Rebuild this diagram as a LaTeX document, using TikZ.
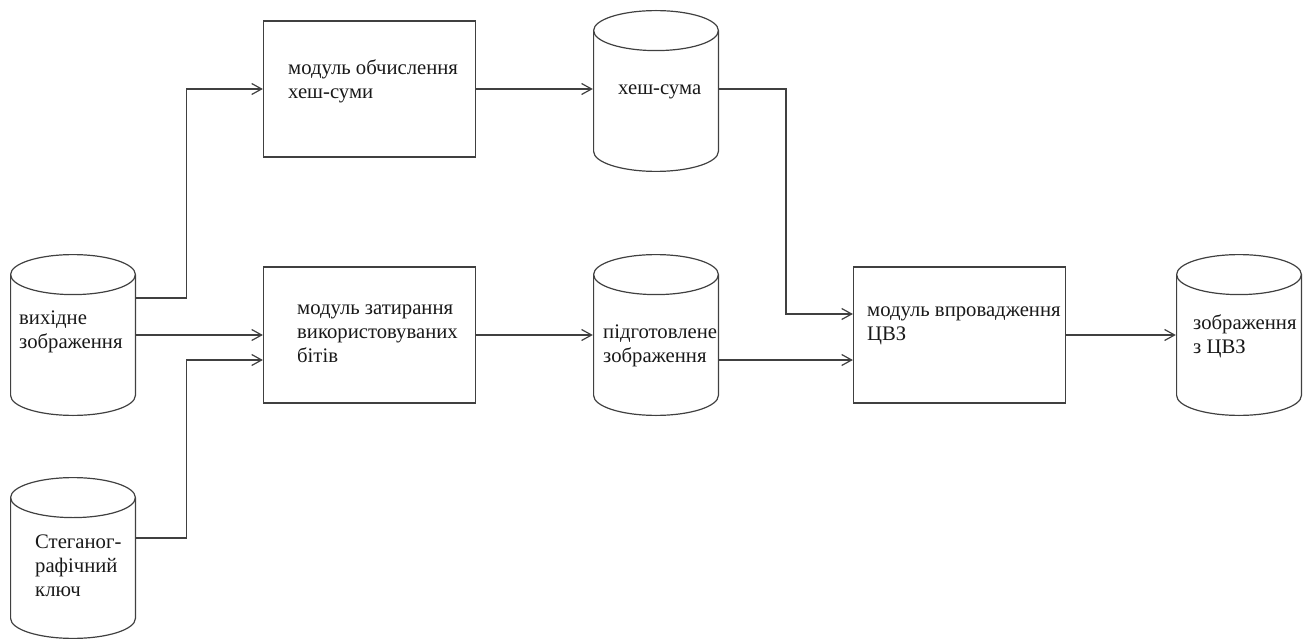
\documentclass[tikz,border=0pt]{standalone}
\usepackage{fontspec}
\setmainfont{Liberation Serif}
\usetikzlibrary{arrows.meta}

\tikzset{
  ln/.style={line width=1.2pt, draw=black!75},
  % process block
  block/.style={ln, draw, rectangle, inner sep=0pt, minimum width=212pt, minimum height=136pt},
  % data store drawn as a cylinder inside an invisible frame
  store/.style={rectangle, inner sep=0pt, minimum width=126pt, minimum height=162pt,
    path picture={
      \draw[ln] ([yshift=-20.6pt]path picture bounding box.north) ellipse [x radius=62.4pt, y radius=20pt];
      \draw[ln] ([shift={(0.6pt,-20.6pt)}]path picture bounding box.north west)
        -- ([shift={(0.6pt,20.6pt)}]path picture bounding box.south west)
        arc [start angle=180, end angle=360, x radius=62.4pt, y radius=20pt]
        -- ([shift={(-0.6pt,-20.6pt)}]path picture bounding box.north east);
    }},
  txt/.style={anchor=west, align=left, inner sep=0pt, text=black!90,
    font=\fontsize{20.7}{24}\selectfont},
  flow/.style={ln, -{Straight Barb[length=10pt, width=11pt, line width=1.2pt]}},
}

\begin{document}
\begin{tikzpicture}[x=1pt, y=-1pt]
  \useasboundingbox (0,0) rectangle (1311,639);

  % data stores
  \node[store] (src)  at (73,335)   {};
  \node[store] (key)  at (73,558)   {};
  \node[store] (hash) at (656,91)   {};
  \node[store] (prep) at (656,335)  {};
  \node[store] (out)  at (1239,335) {};

  % processing modules
  \node[block] (hashmod)  at (369.5,89)  {};
  \node[block] (erasemod) at (369.5,335) {};
  \node[block] (embedmod) at (959.5,335) {};

  % captions
  \node[txt] (srct)  at (19,332)   {вихідне\\зображення};
  \node[txt] (keyt)  at (35,566)   {Стеганог-\\рафічний\\ключ};
  \node[txt] (hasht) at (618,92)   {хеш-сума};
  \node[txt] (prept) at (603,346)  {підготовлене\\зображення};
  \node[txt] (outt)  at (1193,336) {зображення\\з ЦВЗ};
  \node[txt] (hashmodt)  at (288,81)  {модуль обчислення\\хеш-суми};
  \node[txt] (erasemodt) at (297,334) {модуль затирання\\використовуваних\\бітів};
  \node[txt] (embedmodt) at (867,326) {модуль впровадження\\ЦВЗ};

  % connectors
  \draw[flow] ([yshift=37pt]src.east) -- ++(50pt,0) |- (hashmod.west);
  \draw[flow] (src.east) -- (erasemod.west);
  \draw[flow] ([yshift=20pt]key.east) -- ++(50pt,0) |- ([yshift=-25pt]erasemod.west);
  \draw[flow] (hashmod.east) -- (hashmod.east -| hash.west);
  \draw[flow] (erasemod.east) -- (prep.west);
  \coordinate (turn) at (786,314);
  \draw[flow] (hashmod.east -| hash.east) -| (turn) -- (turn -| embedmod.west);
  \draw[flow] ([yshift=-25pt]prep.east) -- ([yshift=-25pt]embedmod.west);
  \draw[flow] (embedmod.east) -- (out.west);
\end{tikzpicture}
\end{document}
